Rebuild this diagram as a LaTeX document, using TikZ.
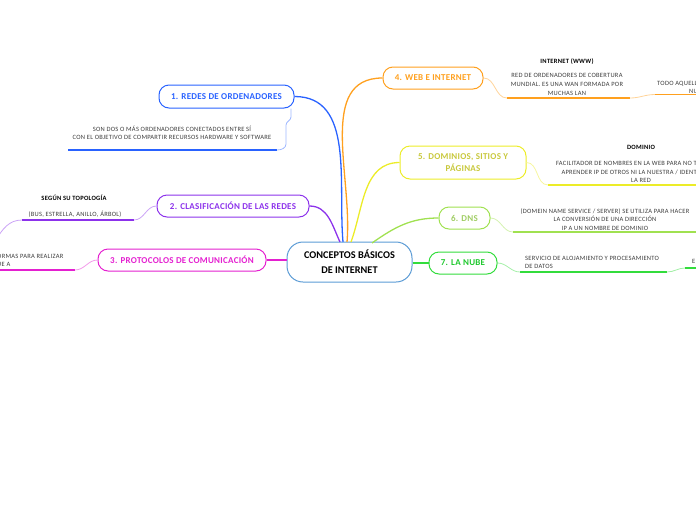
\documentclass[tikz,border=0pt]{standalone}
\usepackage{fontspec}
\setmainfont{Carlito}
\definecolor{cblue}{RGB}{41,98,255}
\definecolor{cpurple}{RGB}{140,50,235}
\definecolor{cmag}{RGB}{228,32,208}
\definecolor{corange}{RGB}{255,160,30}
\definecolor{cyellow}{RGB}{236,236,40}
\definecolor{cyeltext}{RGB}{200,200,60}
\definecolor{clgreen}{RGB}{160,225,80}
\definecolor{clgtext}{RGB}{160,205,100}
\definecolor{cgreen}{RGB}{50,220,60}
\definecolor{cgtext}{RGB}{30,200,45}
\definecolor{ccenter}{RGB}{91,155,213}
\definecolor{subtext}{RGB}{60,60,60}
\tikzset{
  topic/.style={draw=#1, line width=1pt, rounded corners=10pt, text=#1, font=\fontsize{9}{11}\selectfont\bfseries\addfontfeature{LetterSpace=3}, align=center, inner sep=2pt},
  mainline/.style={draw=#1, line width=1.3pt},
  subline/.style={draw=#1!45, line width=0.8pt},
  uline/.style={draw=#1, line width=1.6pt},
  small/.style={font=\fontsize{6.5}{8.6}\selectfont\addfontfeature{LetterSpace=4}, text=subtext, inner sep=0pt, align=center},
  smallb/.style={font=\fontsize{6.5}{8.6}\selectfont\bfseries\addfontfeature{LetterSpace=4}, text=black, inner sep=0pt},
}
\begin{document}
\begin{tikzpicture}[x=1pt,y=-1pt]
\useasboundingbox (0,0) rectangle (696,520);
\clip (0,0) rectangle (696,520);
% center
\node[draw=ccenter, line width=1pt, rounded corners=16pt, minimum width=125pt, minimum height=40pt, align=center, font=\fontsize{10.3}{15}\selectfont\bfseries] (c) at (349.5,262) {CONCEPTOS BÁSICOS\\DE INTERNET};
% topics
\node[topic=cblue, minimum width=135pt, minimum height=23pt] (t1) at (226.5,96.5) {1. REDES DE ORDENADORES};
\node[topic=cpurple, minimum width=152pt, minimum height=22pt] (t2) at (233,206) {2. CLASIFICACIÓN DE LAS REDES};
\node[topic=cmag, minimum width=168pt, minimum height=22pt] (t3) at (182,260) {3. PROTOCOLOS DE COMUNICACIÓN};
\node[topic=corange, minimum width=100pt, minimum height=22pt] (t4) at (433,78) {4. WEB E INTERNET};
\node[topic=cyellow, text=cyeltext, minimum width=126pt, minimum height=33pt, font=\fontsize{9}{12.5}\selectfont\bfseries\addfontfeature{LetterSpace=3}] (t5) at (463,162.5) {5. DOMINIOS, SITIOS Y\\PÁGINAS};
\node[topic=clgreen, text=clgtext, minimum width=51pt, minimum height=22pt] (t6) at (464.5,218) {6. DNS};
\node[topic=cgreen, text=cgtext, minimum width=68pt, minimum height=22pt] (t7) at (463,263) {7. LA NUBE};
% center anchor points
\coordinate (c1) at (343,242);
\coordinate (c2) at (340,242);
\coordinate (c4) at (347,242);
\coordinate (c5) at (351,242);
\coordinate (c6) at (372,243);
% main connectors
\draw[mainline=cblue] (t1.east) to[out=0,in=95] (c1);
\draw[mainline=cpurple] (t2.east) to[out=0,in=115] (c2);
\draw[mainline=cmag] (t3.east) -- (c.west |- t3.east);
\draw[mainline=corange] (t4.west) to[out=180,in=85] (c4);
\draw[mainline=cyellow] (t5.west) to[out=180,in=70] (c5);
\draw[mainline=clgreen] (t6.west) to[out=180,in=35] (c6);
\draw[mainline=cgreen] (c.east |- t7.west) -- (t7.west);
% --- subtopic 1
\node[small] (s1) at (172,133) {SON DOS O MÁS ORDENADORES CONECTADOS ENTRE SÍ\\CON EL OBJETIVO DE COMPARTIR RECURSOS HARDWARE Y SOFTWARE};
\coordinate (u1a) at (68,150); \coordinate (u1b) at (277,150);
\draw[uline=cblue] (u1a) -- (u1b);
\draw[subline=cblue] (t1.south -| 291,0) -- (291,117) to[out=-90,in=90] (286,125) -- (286,144) to[out=-90,in=0] (u1b);
% --- subtopic 2
\node[smallb] (s2a) at (74,198) {SEGÚN SU TOPOLOGÍA};
\node[small] (s2b) at (75,214) {(BUS, ESTRELLA, ANILLO, ÁRBOL)};
\coordinate (u2a) at (22,220); \coordinate (u2b) at (134,220);
\draw[uline=cpurple] (u2a) -- (u2b);
\draw[subline=cpurple] (t2.west) to[out=180,in=0] (u2b);
\coordinate (o2) at (-4,240);
\draw[subline=cpurple] (u2a) to[out=180,in=60] (o2);
% --- subtopic 3
\node[small, anchor=west, align=left] (s3) at (-3,260.5) {ORMAS PARA REALIZAR\\UE A};
\coordinate (u3a) at (-2,270); \coordinate (u3b) at (75,270);
\draw[uline=cmag] (u3a) -- (u3b);
\draw[subline=cmag] (t3.west) to[out=180,in=0] (u3b);
% --- subtopic 4
\node[smallb] (s4a) at (567,62) {INTERNET (WWW)};
\node[small] (s4b) at (567,84.5) {RED DE ORDENADORES DE COBERTURA\\MUNDIAL. ES UNA WAN FORMADA POR\\MUCHAS LAN};
\coordinate (u4a) at (507,98); \coordinate (u4b) at (630,98);
\draw[uline=corange] (u4a) -- (u4b);
\draw[subline=corange] (t4.east) to[out=0,in=180] (u4a);
\coordinate (u4c) at (655,94.5); \coordinate (u4d) at (700,94.5);
\draw[subline=corange] (u4b) to[out=0,in=180] (u4c);
\draw[uline=corange] (u4c) -- (u4d);
\node[small, anchor=west, align=left] (s4c) at (657,84) {TODO AQUELL};
\node[small, anchor=west] (s4d) at (689,91) {NU};
% --- subtopic 5
\node[smallb] (s5a) at (641,147) {DOMINIO};
\node[small] (s5b) at (641,172) {FACILITADOR DE NOMBRES EN LA WEB PARA NO TENER QUE\\APRENDER IP DE OTROS NI LA NUESTRA / IDENTIDAD EN\\LA RED};
\coordinate (u5a) at (548,185); \coordinate (u5b) at (700,185);
\draw[uline=cyellow] (u5a) -- (u5b);
\draw[subline=cyellow] (t5.east) to[out=0,in=180] (u5a);
% --- subtopic 6
\node[small] (s6) at (605,219.5) {(DOMEIN NAME SERVICE / SERVER) SE UTILIZA PARA HACER\\LA CONVERSIÓN DE UNA DIRECCIÓN\\IP A UN NOMBRE DE DOMINIO};
\coordinate (u6a) at (513,232); \coordinate (u6b) at (700,232);
\draw[uline=clgreen] (u6a) -- (u6b);
\draw[subline=clgreen] (t6.east) to[out=0,in=180] (u6a);
% --- subtopic 7
\node[small, anchor=west, align=left] (s7) at (525,262.5) {SERVICIO DE ALOJAMIENTO Y PROCESAMIENTO\\DE DATOS};
\coordinate (u7a) at (520,272); \coordinate (u7b) at (667,272);
\draw[uline=cgreen] (u7a) -- (u7b);
\draw[subline=cgreen] (t7.east) to[out=0,in=180] (u7a);
\coordinate (u7c) at (685,268); \coordinate (u7d) at (700,268);
\draw[subline=cgreen] (u7b) to[out=0,in=180] (u7c);
\draw[uline=cgreen] (u7c) -- (u7d);
\node[small, anchor=west] (s7b) at (692,261) {E};
\end{tikzpicture}
\end{document}
